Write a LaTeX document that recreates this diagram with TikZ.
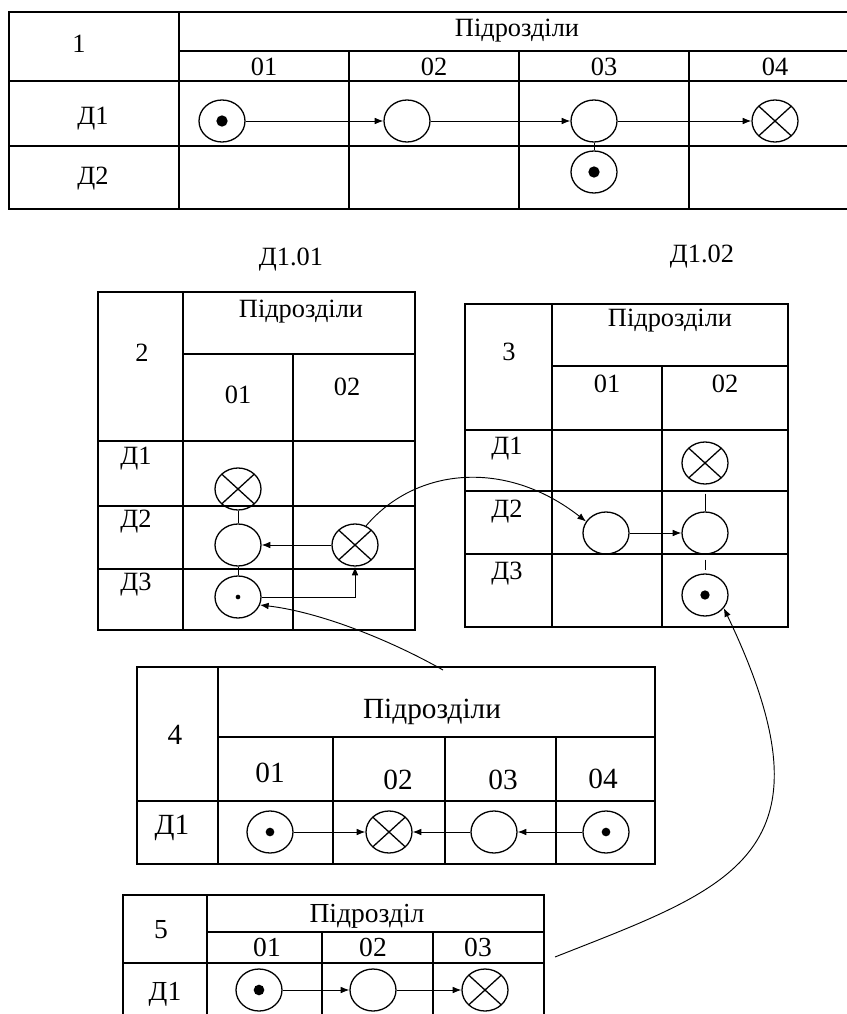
\documentclass[tikz,border=0pt]{standalone}
\usepackage{fontspec}
\setmainfont{Liberation Serif}
\usetikzlibrary{shapes.geometric,arrows.meta}
\tikzset{
  tline/.style={line width=1.4pt},
  circ/.style={ellipse, draw, line width=1.1pt, minimum width=13.8mm, minimum height=12.6mm, inner sep=0pt},
  dotc/.style={circ, path picture={\fill (path picture bounding box.center) circle (#1);}},
  dotc/.default=1.6mm,
  xc/.style={circ, path picture={\draw[line width=1.1pt] (path picture bounding box.north west) -- (path picture bounding box.south east) (path picture bounding box.north east) -- (path picture bounding box.south west);}},
  conn/.style={line width=0.8pt},
  arr/.style={conn, -{Latex[length=2.6mm,width=2mm]}},
  txt/.style={font=\fontsize{22.5}{26}\selectfont, inner sep=0pt},
  txtbig/.style={font=\fontsize{25}{29}\selectfont, inner sep=0pt},
  txtfive/.style={font=\fontsize{23.5}{27}\selectfont, inner sep=0pt},
}
\begin{document}
\begin{tikzpicture}[x=0.03cm,y=-0.03cm]
\useasboundingbox (0,0) rectangle (847,1014);
\fill[white] (0,0) rectangle (847,1014);
\clip (0,0) rectangle (847,1014);

% ---------- Table 1 ----------
\draw[tline] (9,12) rectangle (858,209);
\draw[tline] (179,12) -- (179,209);
\draw[tline] (179,51) -- (858,51);
\draw[tline] (9,81) -- (858,81) (9,146) -- (858,146);
\draw[tline] (349,51) -- (349,209) (519,51) -- (519,209) (689,51) -- (689,209);
\node[txt] (t1n) at (79,44) {1};
\node[txt] (t1h) at (517,31) {Підрозділи};
\node[txt] (t1c1) at (264,67) {01};
\node[txt] (t1c2) at (434,67) {02};
\node[txt] (t1c3) at (604,67) {03};
\node[txt] (t1c4) at (775,67) {04};
\node[txt] (t1r1) at (93,119) {Д1};
\node[txt] (t1r2) at (93,179) {Д2};
\begin{scope}[every node/.append style={minimum height=13.2mm}]
\node[dotc=1.7mm] (a1) at (222,121) {};
\node[circ] (a2) at (407,121) {};
\node[circ] (a3) at (594,121) {};
\node[xc] (a4) at (775,121) {};
\node[dotc=1.7mm] (a5) at (594,172) {};
\end{scope}
\draw[arr] (a1) -- (a2);
\draw[arr] (a2) -- (a3);
\draw[arr] (a3) -- (a4);
\draw[conn] (a3) -- (a5);

% ---------- Table 2 ----------
\node[txt] (t2title) at (291,260) {Д1.01};
\draw[tline] (98,292) rectangle (415,630);
\draw[tline] (183,292) -- (183,630) (293,354) -- (293,630);
\draw[tline] (183,354) -- (415,354) (98,441) -- (415,441) (98,506) -- (415,506) (98,569) -- (415,569);
\node[txt] (t2n) at (142,353) {2};
\node[txt] (t2h) at (301,312) {Підрозділи};
\node[txt] (t2c1) at (238,395) {01};
\node[txt] (t2c2) at (347,387) {02};
\node[txt] (t2r1) at (136,459) {Д1};
\node[txt] (t2r2) at (136,522) {Д2};
\node[txt] (t2r3) at (136,585) {Д3};
\begin{scope}[every node/.append style={minimum width=14.4mm}]
\node[xc] (b1) at (238,489) {};
\node[circ] (b2) at (238,545) {};
\node[dotc=0.7mm] (b3) at (238,597) {};
\node[xc, minimum width=13.8mm] (b4) at (355,545) {};
\end{scope}
\draw[conn] (b1) -- (b2);
\draw[conn] (b2) -- (b3);
\draw[arr] (b4) -- (b2);
\draw[arr] (b3.east) -- (b4.south |- b3.east) -- (b4.south);

% ---------- Table 3 ----------
\node[txt] (t3title) at (702,257) {Д1.02};
\draw[tline] (465,304) rectangle (788,627);
\draw[tline] (552,304) -- (552,627) (662,366) -- (662,627);
\draw[tline] (552,366) -- (788,366) (465,430) -- (788,430) (465,491) -- (788,491) (465,554) -- (788,554);
\node[txt] (t3n) at (509,352) {3};
\node[txt] (t3h) at (670,321) {Підрозділи};
\node[txt] (t3c1) at (607,384) {01};
\node[txt] (t3c2) at (725,384) {02};
\node[txt] (t3r1) at (507,449) {Д1};
\node[txt] (t3r2) at (507,512) {Д2};
\node[txt] (t3r3) at (507,574) {Д3};
\begin{scope}[every node/.append style={minimum width=14.1mm, minimum height=12.3mm}]
\node[xc] (c1) at (705,463) {};
\node[circ] (c2) at (705,533) {};
\node[circ] (c0) at (606,533) {};
\node[dotc=1.4mm] (c3) at (705,595) {};
\end{scope}
\draw[conn, shorten <=2.7mm] (c1) -- (c2);
\draw[conn, shorten <=1.5mm, shorten >=1mm] (c2) -- (c3);
\draw[arr] (c0) -- (c2);

% ---------- Table 4 ----------
\draw[tline] (137,667) rectangle (655,864);
\draw[tline] (218,667) -- (218,864) (333,737) -- (333,864) (445,737) -- (445,864) (556,737) -- (556,864);
\draw[tline] (218,737) -- (655,737) (137,801) -- (655,801);
\node[txtbig] (t4n) at (175,735) {4};
\node[txtbig] (t4h) at (432,712) {Підрозділи};
\node[txtbig] (t4c1) at (270,773) {01};
\node[txtbig] (t4c2) at (398,780) {02};
\node[txtbig] (t4c3) at (503,780) {03};
\node[txtbig] (t4c4) at (603,779) {04};
\node[txtbig] (t4r1) at (172,828) {Д1};
\begin{scope}[every node/.append style={minimum width=14.1mm, minimum height=11.7mm}]
\node[dotc=1.3mm] (d1) at (270,832) {};
\node[xc] (d2) at (389,832) {};
\node[circ] (d3) at (494,832) {};
\node[dotc=1.3mm] (d4) at (606,832) {};
\end{scope}
\draw[arr] (d1) -- (d2);
\draw[arr] (d3) -- (d2);
\draw[arr] (d4) -- (d3);

% ---------- Table 5 ----------
\draw[tline] (123,1030) -- (123,895) -- (544,895) -- (544,1030);
\draw[tline] (207,895) -- (207,1030) (322,932) -- (322,1030) (433,932) -- (433,1030);
\draw[tline] (207,932) -- (544,932) (123,963) -- (544,963);
\node[txtfive] (t5n) at (161,930) {5};
\node[txtfive] (t5h) at (367,916) {Підрозділ};
\node[txtfive] (t5c1) at (267,947) {01};
\node[txtfive] (t5c2) at (373,947) {02};
\node[txtfive] (t5c3) at (478,947) {03};
\node[txtfive] (t5r1) at (165,994) {Д1};
\begin{scope}[every node/.append style={minimum width=14.1mm, minimum height=13.2mm}]
\node[dotc=1.6mm] (f1) at (259,990) {};
\node[circ] (f2) at (373,990) {};
\node[xc] (f3) at (485,990) {};
\end{scope}
\draw[arr] (f1) -- (f2);
\draw[arr] (f2) -- (f3);

% ---------- curved connectors ----------
\coordinate (p4) at (443,670);
\coordinate (p5) at (555,957);
\draw[arr] (p4) .. controls (390,640) and (320,612) .. (b3.-20);
\draw[arr] (b4.60) .. controls (415,468) and (505,458) .. (c0.150);
\draw[arr] (p5) .. controls (732,887) and (842,855) .. (c3.-35);
\end{tikzpicture}
\end{document}
